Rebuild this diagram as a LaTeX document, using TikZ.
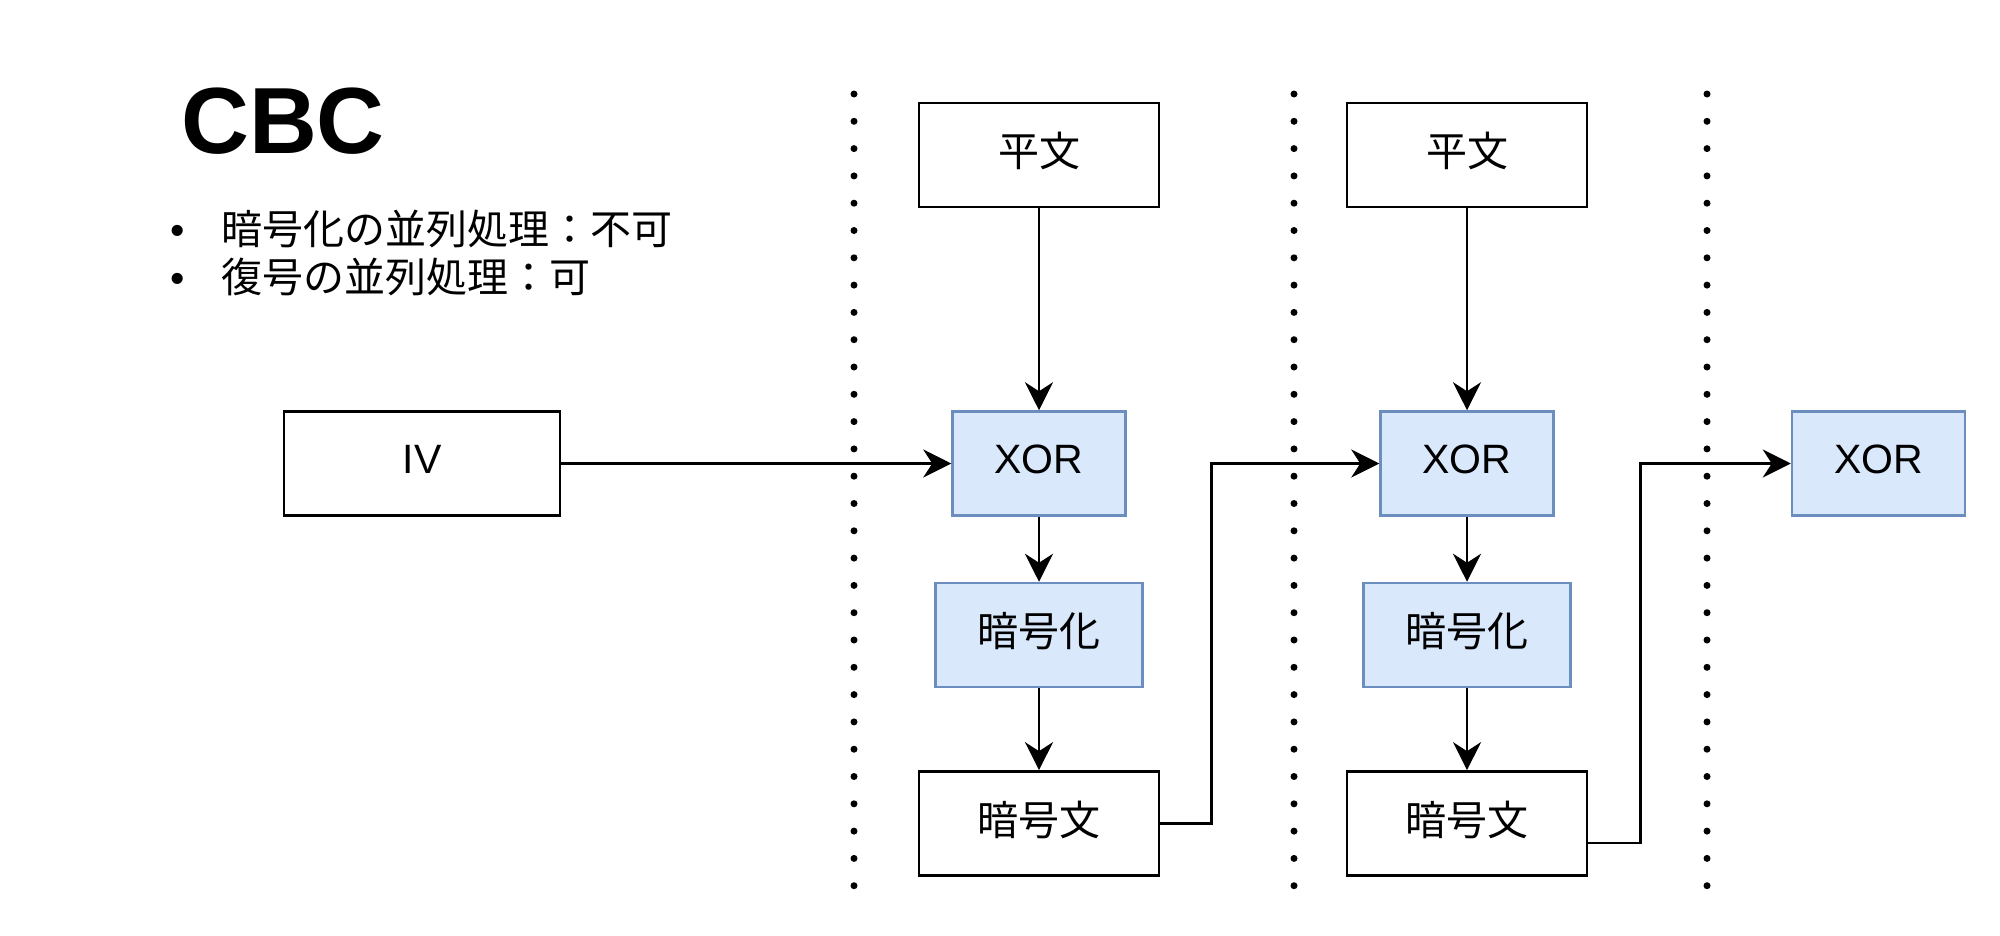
\documentclass[tikz,border=0pt]{standalone}
\usepackage{fontspec}
\setmainfont{Liberation Sans}
\newfontfamily\jp{Noto Sans CJK JP}
\usetikzlibrary{arrows.meta}
\definecolor{bluefill}{HTML}{DAE8FC}
\definecolor{blueline}{HTML}{6C8EBF}
\newcommand{\lift}[1]{\raisebox{4pt}[\height][\depth]{#1}}
\tikzset{
  base/.style={rectangle, inner sep=0pt, minimum height=104pt, font=\fontsize{41}{49}\selectfont, text=black},
  plainbox/.style={base, draw=black, line width=2.7pt, fill=white},
  bluebox/.style={base, draw=blueline, line width=2.5pt, fill=bluefill},
  conn/.style={draw=black, line width=2.6pt, -{Stealth[length=28pt,width=28pt,inset=9pt]}},
  sepline/.style={line width=7pt, line cap=round, dash pattern=on 0pt off 27.3pt},
}
\begin{document}
\begin{tikzpicture}[x=1pt,y=-1pt]
\useasboundingbox[fill=white] (0,0) rectangle (2000,935);

% title and bullets
\node[anchor=base west, inner sep=0pt, font=\fontsize{94}{110}\selectfont\bfseries] (title) at (181,153) {CBC};
\node[anchor=west, inner sep=0pt, font=\fontsize{41}{48}\selectfont] (b1) at (170,229) {\makebox[51pt][l]{\textbullet}{\jp 暗号化の並列処理：不可}};
\node[anchor=west, inner sep=0pt, font=\fontsize{41}{48}\selectfont] (b2) at (170,277) {\makebox[51pt][l]{\textbullet}{\jp 復号の並列処理：可}};

% separators
\draw[sepline] (854,94) -- (854,890);
\draw[sepline] (1294,94) -- (1294,890);
\draw[sepline] (1707,94) -- (1707,890);

% nodes
\node[plainbox, minimum width=276pt] (iv) at (422,463.5) {\lift{IV}};

\node[plainbox, minimum width=240pt] (pt1) at (1039,155) {\lift{\jp 平文}};
\node[bluebox, minimum width=173pt] (xor1) at (1039,463.5) {\lift{XOR}};
\node[bluebox, minimum width=207pt] (enc1) at (1039,635) {\lift{\jp 暗号化}};
\node[plainbox, minimum width=240pt] (ct1) at (1039,823.5) {\lift{\jp 暗号文}};

\node[plainbox, minimum width=240pt] (pt2) at (1467,155) {\lift{\jp 平文}};
\node[bluebox, minimum width=173pt] (xor2) at (1467,463.5) {\lift{XOR}};
\node[bluebox, minimum width=207pt] (enc2) at (1467,635) {\lift{\jp 暗号化}};
\node[plainbox, minimum width=240pt] (ct2) at (1467,823.5) {\lift{\jp 暗号文}};

\node[bluebox, minimum width=173pt] (xor3) at (1878.5,463.5) {\lift{XOR}};

% connectors
\draw[conn] (iv.east) -- (xor1.west);
\draw[conn] (pt1) -- (xor1);
\draw[conn] (xor1) -- (enc1);
\draw[conn] (enc1) -- (ct1);
\draw[conn] (pt2) -- (xor2);
\draw[conn] (xor2) -- (enc2);
\draw[conn] (enc2) -- (ct2);
\draw[conn] (ct1.east) -- ++(51,0) |- (xor2.west);
\draw[conn] ([yshift=-19.5pt]ct2.east) -- ++(52,0) |- (xor3.west);
\end{tikzpicture}
\end{document}
